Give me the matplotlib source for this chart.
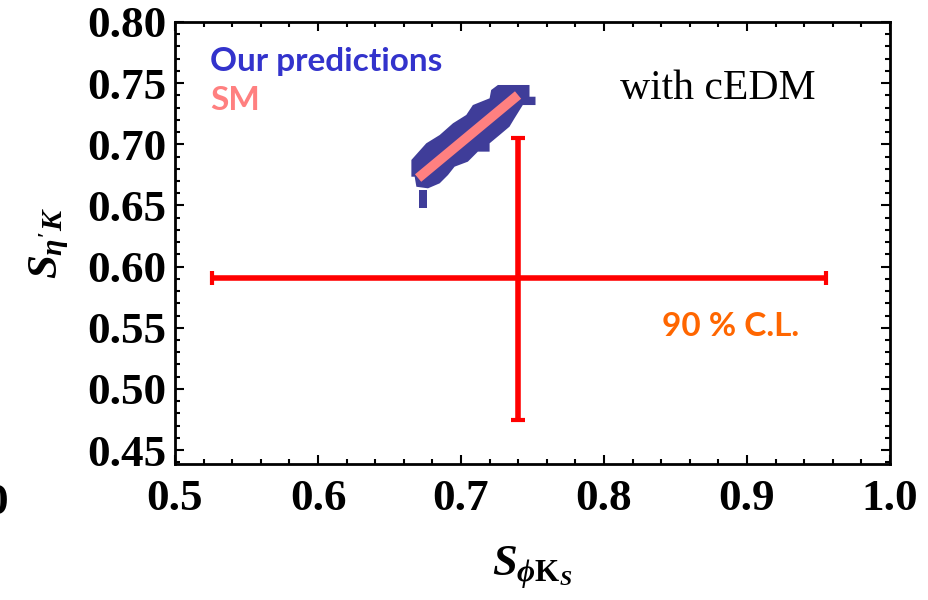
import matplotlib
matplotlib.use("Agg")
import matplotlib.pyplot as plt
from matplotlib.ticker import MultipleLocator, FormatStrFormatter

plt.rcParams['mathtext.fontset'] = 'custom'
plt.rcParams['mathtext.it'] = 'Liberation Serif:bold:italic'
plt.rcParams['mathtext.rm'] = 'Liberation Serif:bold'
plt.rcParams['mathtext.bf'] = 'Liberation Serif:bold'

# ---- data ----
# outline of "Our predictions" region (S_phiK, S_eta'K)
pred_x = [0.6653, 0.6757, 0.6851, 0.6944, 0.7037, 0.7083, 0.7200, 0.7211, 0.7258,
          0.7479, 0.7479, 0.7521, 0.7521, 0.7432, 0.7374, 0.7339, 0.7270, 0.7200,
          0.7200, 0.7118, 0.7048, 0.6955, 0.6909, 0.6851, 0.6769, 0.6688, 0.6676,
          0.6653]
pred_y = [0.6872, 0.7008, 0.7076, 0.7172, 0.7240, 0.7321, 0.7376, 0.7444, 0.7485,
          0.7485, 0.7389, 0.7389, 0.7321, 0.7321, 0.7212, 0.7144, 0.7076, 0.7008,
          0.6940, 0.6940, 0.6858, 0.6817, 0.6749, 0.6681, 0.6640, 0.6653, 0.6735,
          0.6735]
# small tail of the prediction region
tail_x = [0.6709, 0.6765, 0.6765, 0.6709]
tail_y = [0.6626, 0.6626, 0.6479, 0.6479]
# SM band end points
sm_x = [0.6700, 0.7399]
sm_y = [0.6724, 0.7403]
# experimental 90% C.L. point
exp_x = 0.7400
exp_y = 0.5907
exp_xerr = [[0.2140], [0.2150]]
exp_yerr = [[0.1161], [0.1143]]

xticks = [0.5, 0.6, 0.7, 0.8, 0.9, 1.0]
yticks = [0.45, 0.50, 0.55, 0.60, 0.65, 0.70, 0.75, 0.80]

fig = plt.figure(figsize=(9.29, 6.0), dpi=100)
ax = fig.add_axes([175/929, 1-464/600, (890-175)/929, (464-22)/600])

ax.fill(pred_x, pred_y, color='#3F3D99', lw=0, zorder=2)
ax.fill(tail_x, tail_y, color='#3F3D99', lw=0, zorder=2)
ax.plot(sm_x, sm_y, color='#FF8080', lw=7, solid_capstyle='butt', zorder=3)

ax.errorbar([exp_x], [exp_y], xerr=exp_xerr, yerr=exp_yerr, fmt='none',
            ecolor='#FF0000', elinewidth=4, capsize=5, capthick=3, zorder=4)

ax.set_xlim(0.5, 1.0)
ax.set_ylim(0.4386, 0.80)
ax.set_xticks(xticks)
ax.set_yticks(yticks)
ax.xaxis.set_major_formatter(FormatStrFormatter('%.1f'))
ax.yaxis.set_major_formatter(FormatStrFormatter('%.2f'))
ax.xaxis.set_minor_locator(MultipleLocator(0.02))
ax.yaxis.set_minor_locator(MultipleLocator(0.01))
ax.tick_params(which='both', direction='in', top=True, right=True, width=1.5, color='black')
ax.tick_params(which='major', length=6.5)
ax.tick_params(which='minor', length=3.6)
ax.tick_params(axis='x', which='major', pad=11)
ax.tick_params(axis='y', which='major', pad=6)
for lab in ax.get_xticklabels() + ax.get_yticklabels():
    lab.set_fontfamily('Liberation Serif')
    lab.set_fontweight('bold')
    lab.set_fontsize(32.5)
for sp in ax.spines.values():
    sp.set_linewidth(2.0)

ax.set_xlabel(r'$S_{\phi\mathrm{K}_S}$', fontsize=32, labelpad=18)
ax.set_ylabel(r"$S_{\eta'K}$", fontsize=31, labelpad=12)

ax.text(210/929, 1-61/600, 'Our predictions', transform=fig.transFigure,
        fontfamily='Lato', fontweight='bold', fontsize=24, color='#3333CC',
        ha='left', va='center')
ax.text(210/929, 1-101/600, 'SM', transform=fig.transFigure,
        fontfamily='Lato', fontweight='bold', fontsize=24, color='#FF8080',
        ha='left', va='center')
ax.text(718/929, 1-89/600, 'with cEDM', transform=fig.transFigure,
        fontfamily='Liberation Serif', fontsize=30, color='black',
        ha='center', va='center')
ax.text(731/929, 1-327/600, '90 % C.L.', transform=fig.transFigure,
        fontfamily='Lato', fontweight='bold', fontsize=24, color='#FF6600',
        ha='center', va='center')

fig.text(8/929, 1-503/600, '0', fontfamily='Liberation Serif', fontweight='bold',
         fontsize=32.5, ha='right', va='center')

fig.savefig('out.png', dpi=100)
